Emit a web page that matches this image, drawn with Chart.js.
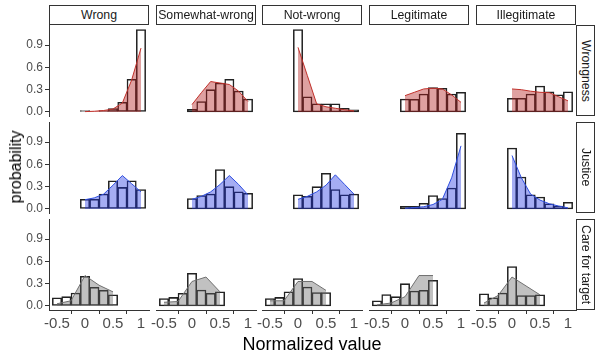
<!DOCTYPE html>
<html>
<head>
<meta charset="utf-8">
<script src="https://cdn.jsdelivr.net/npm/chart.js@4.4.1/dist/chart.umd.min.js"></script>
<style>
body { margin: 0; background: #fff; width: 595px; height: 358px; overflow: hidden; position: relative; font-family: "Liberation Sans", Arial, sans-serif; }
canvas { position: absolute; }
.strip { position: absolute; box-sizing: border-box; border: 1px solid #333; background: #fff; color: #1a1a1a; font-size: 12.3px; display: flex; align-items: center; justify-content: center; white-space: nowrap; }
.rstrip { writing-mode: vertical-rl; }
.title { position: absolute; color: #000; white-space: nowrap; font-weight: normal; transform: translate(-50%, -50%); }
</style>
</head>
<body>
<script>
var columns = ['Wrong', 'Somewhat-wrong', 'Not-wrong', 'Legitimate', 'Illegitimate'];
var rows = ['Wrongness', 'Justice', 'Care for target'];

// bin centres of the histograms and x of the model points
var binsUnit = [0, 0.167, 0.333, 0.5, 0.667, 0.833, 1];
var binsCare = [-0.5, -0.333, -0.167, 0, 0.167, 0.333, 0.5];
var modelXCare = [-0.5, -0.25, 0, 0.25, 0.5];

var xTicks = [-0.5, 0, 0.5, 1];
var yTicks = [0, 0.3, 0.6, 0.9];

// observed (outlined bars), one array per column
var wrongnessObs = [
    [0.02, null, 0.02, 0.045, 0.13, 0.44, 1.11],
    [0.035, 0.14, 0.3, 0.39, 0.44, 0.28, 0.175],
    [1.11, 0.205, 0.11, 0.11, 0.11, 0.05, 0.03],
    [0.175, 0.17, 0.24, 0.33, 0.32, 0.24, 0.265],
    [0.185, 0.185, 0.24, 0.35, 0.27, 0.23, 0.27]
];
var justiceObs = [
    [0.13, 0.13, 0.2, 0.38, 0.29, 0.38, 0.26],
    [0.14, 0.18, 0.2, 0.53, 0.3, 0.23, 0.21],
    [0.19, 0.17, 0.3, 0.48, 0.26, 0.19, 0.2],
    [0.035, 0.035, 0.075, 0.18, 0.14, 0.28, 1.02],
    [0.82, 0.43, 0.19, 0.16, 0.07, 0.04, 0.09]
];
var careObs = [
    [0.11, 0.125, 0.175, 0.4, 0.25, 0.21, 0.15],
    [0.1, 0.115, 0.17, 0.44, 0.215, 0.17, 0.19],
    [0.1, 0.115, 0.19, 0.37, 0.255, 0.18, 0.18],
    [0.07, 0.155, 0.125, 0.3, 0.2, 0.21, 0.345],
    [0.165, 0.11, 0.175, 0.53, 0.14, 0.14, 0.15]
];

// model predictions (filled areas)
var wrongnessModel = [
    [0.005, 0.01, 0.02, 0.04, 0.12, 0.43, 0.86],
    [0.1, 0.26, 0.41, 0.39, 0.37, 0.28, 0.14],
    [0.87, 0.49, 0.11, 0.07, 0.05, 0.03, 0.015],
    [0.22, 0.265, 0.31, 0.32, 0.31, 0.23, 0.13],
    [0.31, 0.3, 0.28, 0.265, 0.26, 0.205, 0.15]
];
var justiceModel = [
    [0.125, 0.15, 0.2, 0.32, 0.45, 0.34, 0.23],
    [0.13, 0.17, 0.23, 0.33, 0.45, 0.33, 0.19],
    [0.13, 0.17, 0.23, 0.32, 0.46, 0.33, 0.2],
    [0.01, 0.02, 0.03, 0.06, 0.13, 0.42, 0.85],
    [0.72, 0.42, 0.2, 0.12, 0.07, 0.04, 0.015]
];
var careModel = [
    [0.03, 0.07, 0.41, 0.28, 0.19],
    [0.05, 0.06, 0.33, 0.39, 0.19],
    [0.07, 0.07, 0.33, 0.33, 0.21],
    [0.015, 0.04, 0.125, 0.41, 0.41],
    [0.04, 0.14, 0.39, 0.27, 0.15]
];

var observed = [wrongnessObs, justiceObs, careObs];
var model = [wrongnessModel, justiceModel, careModel];

var fillColors = ['rgba(178,30,30,0.42)', 'rgba(30,50,225,0.4)', 'rgba(100,100,100,0.4)'];
var lineColors = ['#c0302a', '#2f4fe0', '#707070'];

var panelLeft = [49, 156, 262, 369, 476];
var panelTop = [25, 122, 219];
var panelW = 100, panelH = 91;

Chart.defaults.font.family = '"Liberation Sans", Arial, sans-serif';

function makePanel(r, c) {
    var leftCol = c === 0, bottomRow = r === 2;
    var pad = 14, yw = leftCol ? 30 : 0, xh = bottomRow ? 28 : 0;
    var cv = document.createElement('canvas');
    cv.width = panelW + 2 * pad + yw;
    cv.height = panelH + 2 * pad + xh;
    cv.style.left = (panelLeft[c] - pad - yw) + 'px';
    cv.style.top = (panelTop[r] - pad) + 'px';
    document.body.appendChild(cv);

    var bins = r === 2 ? binsCare : binsUnit;
    var mx = r === 2 ? modelXCare : binsUnit;

    new Chart(cv.getContext('2d'), {
        type: 'bar',
        data: {
            datasets: [{
                type: 'line',
                data: mx.map(function (x, i) { return { x: x, y: model[r][c][i] }; }),
                fill: 'origin',
                backgroundColor: fillColors[r],
                borderColor: lineColors[r],
                borderWidth: 1,
                pointRadius: 0,
                tension: 0,
                order: 0
            }, {
                type: 'bar',
                data: bins.map(function (x, i) { return { x: x, y: observed[r][c][i] }; }),
                backgroundColor: 'rgba(0,0,0,0)',
                borderColor: '#222',
                borderWidth: 0.85,
                borderSkipped: false,
                barPercentage: 1,
                categoryPercentage: 1,
                order: 1
            }]
        },
        options: {
            responsive: false,
            animation: false,
            devicePixelRatio: 1,
            layout: { padding: pad },
            plugins: { legend: { display: false }, tooltip: { enabled: false } },
            scales: {
                x: {
                    type: 'linear', min: -0.643, max: 1.143, offset: false,
                    display: bottomRow,
                    afterBuildTicks: function (s) { s.ticks = xTicks.map(function (v) { return { value: v }; }); },
                    afterFit: function (s) { s.height = xh; },
                    grid: { display: true, drawOnChartArea: false, drawTicks: true, tickLength: 4, color: '#333' },
                    border: { display: true, color: '#333', width: 1 },
                    ticks: { font: { size: 15 }, color: '#4d4d4d', padding: 1, maxRotation: 0, autoSkip: false,
                        callback: function (v) { return String(v); } }
                },
                y: {
                    type: 'linear', min: -0.054, max: 1.171,
                    display: leftCol,
                    afterBuildTicks: function (s) { s.ticks = yTicks.map(function (v) { return { value: v }; }); },
                    afterFit: function (s) { s.width = yw; },
                    grid: { display: true, drawOnChartArea: false, drawTicks: true, tickLength: 4, color: '#333' },
                    border: { display: true, color: '#333', width: 1 },
                    ticks: { font: { size: 12 }, color: '#4d4d4d', padding: 2, autoSkip: false,
                        callback: function (v) { return v.toFixed(1); } }
                }
            }
        }
    });
}

for (var r = 0; r < rows.length; r++) {
    for (var c = 0; c < columns.length; c++) {
        makePanel(r, c);
    }
}

// facet strips
columns.forEach(function (name, c) {
    var d = document.createElement('div');
    d.className = 'strip';
    d.style.left = panelLeft[c] + 'px';
    d.style.top = '5px';
    d.style.width = panelW + 'px';
    d.style.height = '20px';
    d.textContent = name;
    document.body.appendChild(d);
});
rows.forEach(function (name, r) {
    var d = document.createElement('div');
    d.className = 'strip rstrip';
    d.style.left = '576px';
    d.style.top = panelTop[r] + 'px';
    d.style.width = '19px';
    d.style.height = panelH + 'px';
    d.textContent = name;
    document.body.appendChild(d);
});

var yt = document.createElement('div');
yt.className = 'title';
yt.style.left = '16px';
yt.style.top = '167px';
yt.style.fontSize = '16px';
yt.style.transform = 'translate(-50%, -50%) rotate(-90deg)';
yt.textContent = 'probability';
document.body.appendChild(yt);

var xt = document.createElement('div');
xt.className = 'title';
xt.style.left = '312px';
xt.style.top = '344px';
xt.style.fontSize = '18px';
xt.textContent = 'Normalized value';
document.body.appendChild(xt);
</script>
</body>
</html>
